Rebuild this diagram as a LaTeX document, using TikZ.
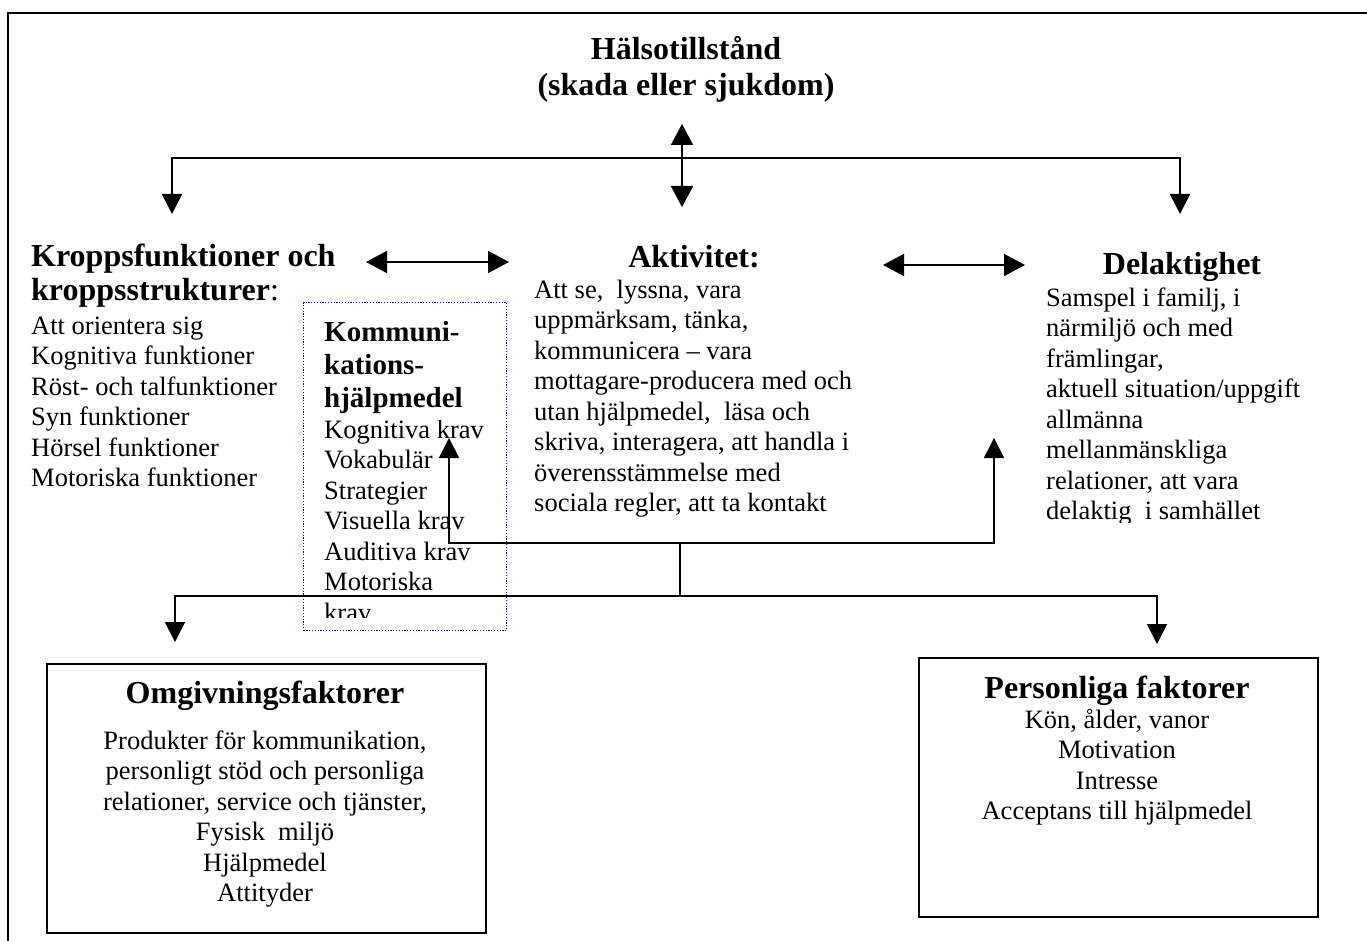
\documentclass[tikz,border=0pt]{standalone}
\usepackage{fontspec}
\setmainfont{Liberation Serif}
\usetikzlibrary{arrows.meta}
\definecolor{dotblue}{RGB}{0,0,255}
\begin{document}
\begin{tikzpicture}[x=1pt,y=-1pt,
  bodytext/.style={font=\fontsize{26.5}{30.5}\selectfont, inner sep=0pt},
  headtext/.style={font=\fontsize{32}{34}\selectfont\bfseries, inner sep=0pt},
  smallhead/.style={font=\fontsize{29}{33}\selectfont\bfseries, inner sep=0pt},
  conn/.style={line width=1.7pt},
  tipend/.style={-{Triangle[width=20pt,length=20pt]}},
  bothends/.style={{Triangle[width=22pt,length=21pt]}-{Triangle[width=22pt,length=21pt]}},
  framebox/.style={draw, line width=1.7pt, inner sep=0pt, anchor=north west}]
\useasboundingbox (0,0) rectangle (1367,941);
% outer frame (cut by the page)
\draw[line width=1.7pt] (8,945) -- (8,13) -- (1370,13);

% (multi-line nodes: the base anchor is the baseline of the last line)
% Health condition
\node[headtext, font=\fontsize{32}{36}\selectfont\bfseries, align=center, anchor=base] (hals) at (686,96) {Hälsotillstånd\\(skada eller sjukdom)};

% Body functions
\node[headtext, align=left, anchor=base west] (kropphead) at (31,300) {Kroppsfunktioner och\\kroppsstrukturer{\mdseries:}};
\node[bodytext, align=left, anchor=base west] (kroppbody) at (31,486.5) {Att orientera sig\\Kognitiva funktioner\\Röst- och talfunktioner\\Syn funktioner\\Hörsel funktioner\\Motoriska funktioner};

% Activity
\node[headtext, anchor=base] (akthead) at (694,267) {Aktivitet:};
\node[bodytext, align=left, anchor=base west] (aktbody) at (534,511.5) {Att se,\ \ lyssna, vara\\uppmärksam, tänka,\\kommunicera – vara\\mottagare-producera med och\\utan hjälpmedel,\ \ läsa och\\skriva, interagera, att handla i\\överensstämmelse med\\sociala regler, att ta kontakt};

% Participation
\node[headtext, anchor=base] (delhead) at (1182,275) {Delaktighet};
\begin{scope}
\clip (1030,200) rectangle (1367,522);
\node[bodytext, align=left, anchor=base west] (delbody) at (1046,519.5) {Samspel i familj, i\\närmiljö och med\\främlingar,\\aktuell situation/uppgift\\allmänna\\mellanmänskliga\\relationer, att vara\\delaktig\ \ i samhället};
\end{scope}

% Communication aids (dotted box)
\node[draw=dotblue, line width=1.2pt, dash pattern=on 1.2pt off 1.6pt, minimum width=203pt, minimum height=328pt, inner sep=0pt, anchor=north west] (kombox) at (303,302) {};
\node[smallhead, align=left, anchor=base west] (komhead) at (324,407) {Kommuni-\\kations-\\hjälpmedel};
\begin{scope}
\clip (300,420) rectangle (510,617);
\node[bodytext, align=left, anchor=base west] (kombody) at (324,621) {Kognitiva krav\\Vokabulär\\Strategier\\Visuella krav\\Auditiva krav\\Motoriska\\krav};
\end{scope}

% Environmental factors
\node[framebox, minimum width=439pt, minimum height=269pt] (omgbox) at (46,663) {};
\node[headtext, anchor=base] (omghead) at (265,703) {Omgivningsfaktorer};
\node[bodytext, align=center, anchor=base] (omgbody) at (265,901.5) {Produkter för kommunikation,\\personligt stöd och personliga\\relationer, service och tjänster,\\Fysisk\ \ miljö\\Hjälpmedel\\Attityder};

% Personal factors
\node[framebox, minimum width=399pt, minimum height=259pt] (perbox) at (918,657) {};
\node[headtext, anchor=base] (perhead) at (1117,698) {Personliga faktorer};
\node[bodytext, align=center, anchor=base] (perbody) at (1117,819.5) {Kön, ålder, vanor\\Motivation\\Intresse\\Acceptans till hjälpmedel};

% junction coordinates
\coordinate (hup) at (682,124);
\coordinate (hdown) at (682,207);
\coordinate (hjoin) at (682,158);
\coordinate (kin) at (172,214);
\coordinate (din) at (1180,214);
\coordinate (kaL) at (366,262);
\coordinate (kaR) at (509,262);
\coordinate (adL) at (883,265);
\coordinate (adR) at (1025,265);
\coordinate (mjoin) at (680,543);
\coordinate (bjoin) at (680,596);
\coordinate (komin) at (449,438);
\coordinate (delin) at (994,438);
\coordinate (omgin) at (175,642);
\coordinate (perin) at (1157,644);

% connectors
\draw[conn, bothends] (hup) -- (hdown);
\draw[conn, tipend] (hjoin) -| (kin);
\draw[conn, tipend] (hjoin) -| (din);
\draw[conn, bothends] (kaL) -- (kaR);
\draw[conn, bothends] (adL) -- (adR);
\draw[conn, tipend] (mjoin) -| (komin);
\draw[conn, tipend] (mjoin) -| (delin);
\draw[conn] (mjoin) -- (bjoin);
\draw[conn, tipend] (bjoin) -| (omgin);
\draw[conn, tipend] (bjoin) -| (perin);
\end{tikzpicture}
\end{document}
